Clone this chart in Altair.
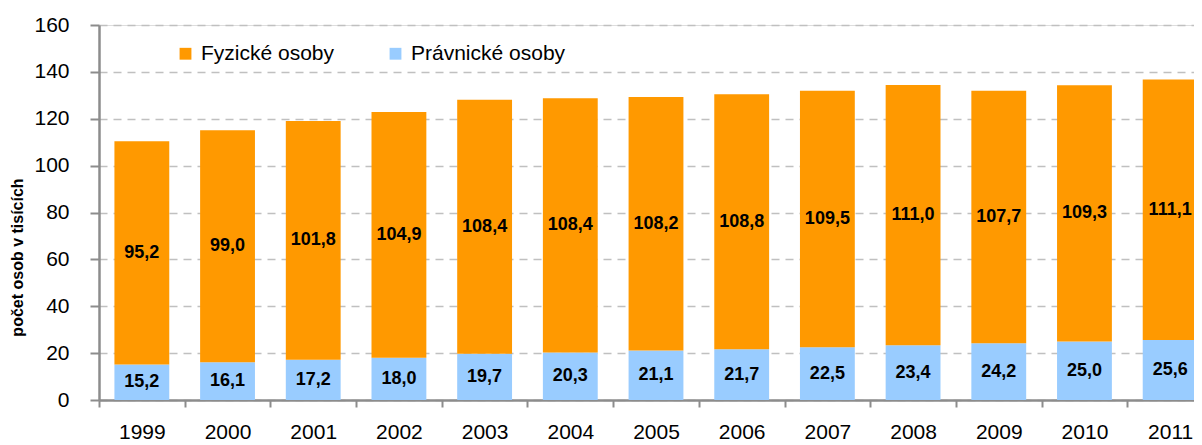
import altair as alt
import pandas as pd

years = ["1999", "2000", "2001", "2002", "2003", "2004", "2005", "2006", "2007", "2008", "2009", "2010", "2011"]
fyzicke = [95.2, 99.0, 101.8, 104.9, 108.4, 108.4, 108.2, 108.8, 109.5, 111.0, 107.7, 109.3, 111.1]
pravnicke = [15.2, 16.1, 17.2, 18.0, 19.7, 20.3, 21.1, 21.7, 22.5, 23.4, 24.2, 25.0, 25.6]
series = ["Fyzické osoby", "Právnické osoby"]
colors = ["#FF9900", "#99CCFF"]

rows = []
for i, y in enumerate(years):
    rows.append({"rok": y, "typ": series[1], "v": pravnicke[i], "ord": 0})
    rows.append({"rok": y, "typ": series[0], "v": fyzicke[i], "ord": 1})
df = pd.DataFrame(rows)

FONT = "Liberation Sans"

base = alt.Chart(df).transform_stack(
    stack="v", groupby=["rok"], as_=["v0", "v1"], sort=[alt.SortField("ord", order="ascending")]
).transform_calculate(
    mid="(datum.v0 + datum.v1) / 2",
    lab="replace(format(datum.v, '.1f'), '.', ',')"
)

x_scale = alt.Scale(paddingInner=0, paddingOuter=0, range=[0, 1114])

x_enc = alt.X("rok:N", title=None, sort=years, scale=x_scale,
              axis=alt.Axis(labelAngle=0, labelFontSize=21, labelFont=FONT, labelColor="#000",
                            labelPadding=14, tickBand="extent", tickSize=7, tickColor="#8c8c8c",
                            tickWidth=2, domainColor="#8c8c8c", domainWidth=2.5, grid=False))

bars = base.mark_bar(width=alt.RelativeBandSize(0.64)).encode(
    x=x_enc,
    y=alt.Y("v0:Q", title="počet osob v tisících",
            scale=alt.Scale(domain=[0, 160]),
            axis=alt.Axis(values=list(range(0, 161, 20)), labelFontSize=21, labelFont=FONT,
                          labelColor="#000", labelPadding=21, tickSize=9, tickColor="#8c8c8c",
                          tickWidth=2, domainColor="#8c8c8c", domainWidth=2.5,
                          grid=True, gridDash=[8, 6], gridColor="#c0c0c0", gridWidth=1.5,
                          titleFont=FONT, titleFontSize=16, titleFontWeight="bold",
                          titleColor="#000", titlePadding=8, titleY=232)),
    y2="v1:Q",
    color=alt.Color("typ:N", scale=alt.Scale(domain=series, range=colors),
                    legend=alt.Legend(title=None, orient="none", direction="horizontal",
                                      legendX=76, legendY=18, labelFont=FONT, labelFontSize=21,
                                      labelColor="#000", symbolType="square", symbolSize=140,
                                      symbolStrokeWidth=0, columnPadding=50, labelOffset=5)),
    order=alt.Order("ord:Q")
)

text = base.mark_text(font=FONT, fontSize=18, fontWeight="bold", color="#000").encode(
    x=alt.X("rok:N", sort=years, scale=x_scale),
    y=alt.Y("mid:Q"),
    text="lab:N"
)

chart = (bars + text).properties(
    width=1095, height=375,
    autosize=alt.AutoSizeParams(type="none"),
    padding={"left": 91, "top": 17, "right": 0, "bottom": 45}
).configure_view(stroke=None).configure(background="white")

chart.save("out.html", embed_options={"renderer": "svg", "actions": False})
